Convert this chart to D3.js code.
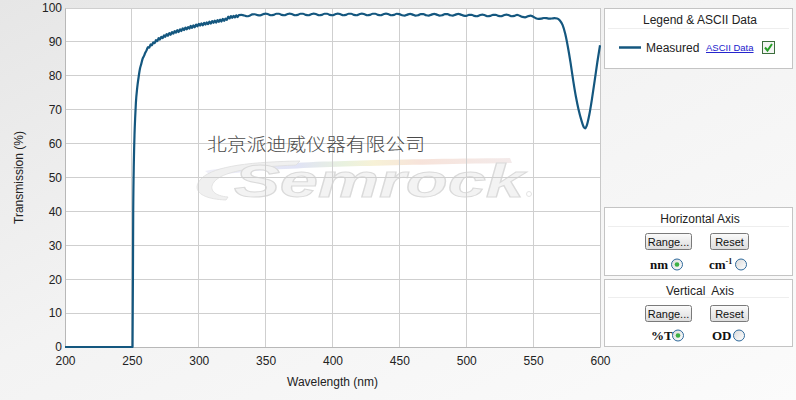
<!DOCTYPE html>
<html>
<head>
<meta charset="utf-8">
<script src="https://cdn.jsdelivr.net/npm/d3@7"></script>
<style>
  html, body { margin: 0; padding: 0; }
  body { width: 796px; height: 400px; overflow: hidden; }
  svg { display: block; }
</style>
</head>
<body>
<svg id="chart" width="796" height="400"></svg>
<script>
// ---------------- DATA ----------------
const wavelengthNm = [
  200, 230, 249, 250.5, 251, 251.5, 252, 252.5, 253, 254, 255, 256, 257, 258, 259, 260, 261,
  262, 263, 264, 265, 266, 267, 268, 269, 270, 271, 272, 273, 274, 275, 276, 277, 278, 279,
  280, 281, 282, 283, 284, 285, 286, 287, 288, 289, 290, 291, 292, 293, 294, 295, 296, 297,
  298, 299, 300, 301, 302, 303, 304, 305, 306, 307, 308, 309, 310, 311, 312, 313, 314, 315,
  316, 317, 318, 319, 320, 321, 322, 323, 324, 325, 326, 327, 328, 329, 330,
  332, 334, 336, 338, 340, 342, 344, 346, 348, 350, 352, 354, 356, 358, 360, 362, 364, 366,
  368, 370, 372, 374, 376, 378, 380, 382, 384, 386, 388, 390, 392, 394, 396, 398, 400, 402,
  404, 406, 408, 410, 412, 414, 416, 418, 420, 422, 424, 426, 428, 430, 432, 434, 436, 438,
  440, 442, 444, 446, 448, 450, 452, 454, 456, 458, 460, 462, 464, 466, 468, 470, 472, 474,
  476, 478, 480, 482, 484, 486, 488, 490, 492, 494, 496, 498, 500, 502, 504, 506, 508, 510,
  512, 514, 516, 518, 520, 522, 524, 526, 528, 530, 532, 534, 536, 538, 540, 542, 544, 546,
  548, 550, 552, 554, 556, 558, 560, 562, 564, 566, 568, 570, 572, 574, 576, 578, 580, 582,
  584, 586, 588, 589, 590, 592, 594, 596, 598, 600
];
const transmission = [
  0, 0, 0, 0, 40, 55, 63, 68, 72, 76.5, 79.5, 82, 83.5, 85, 85.8, 86.8, 87.5,
  88.5, 88.3, 89.3, 89.0, 89.9, 89.6, 90.5, 90.2, 91.1, 90.7, 91.5, 91.1, 91.9, 91.5, 92.3, 91.8, 92.6, 92.1,
  92.9, 92.4, 93.2, 92.7, 93.5, 92.9, 93.7, 93.2, 94.0, 93.5, 94.2, 93.7, 94.4, 93.9, 94.7, 94.1, 94.9, 94.3,
  95.1, 94.6, 95.3, 94.8, 95.5, 94.9, 95.6, 95.1, 95.8, 95.2, 96.0, 95.4, 96.1, 95.6, 96.3, 95.7, 96.4, 95.9,
  96.6, 96.0, 96.8, 96.2, 96.9, 96.5, 97.5, 96.9, 97.6, 97.1, 97.7, 97.2, 97.8, 97.3, 97.9,
  97.95, 97.8, 97.56, 97.73, 98.1, 98.15, 97.88, 97.81, 98.15, 98.35, 98.15, 97.86, 97.98, 98.3, 98.3, 97.98, 97.86, 98.15,
  98.35, 98.15, 97.86, 97.98, 98.3, 98.3, 97.98, 97.86, 98.15, 98.35, 98.15, 97.86, 97.98, 98.3, 98.3, 97.98, 97.86, 98.15,
  98.35, 98.15, 97.86, 97.98, 98.3, 98.3, 97.98, 97.86, 98.15, 98.35, 98.15, 97.86, 97.98, 98.3, 98.3, 97.98, 97.86, 98.15,
  98.35, 98.15, 97.86, 97.98, 98.3, 98.2, 97.88, 97.76, 98.05, 98.25, 98.05, 97.76, 97.88, 98.2, 98.2, 97.88, 97.76, 98.05,
  98.25, 98.05, 97.76, 97.88, 98.2, 98.2, 97.88, 97.76, 98.05, 98.25, 98.05, 97.76, 97.68, 98.0, 98.0, 97.68, 97.56, 97.85,
  98.05, 97.85, 97.56, 97.68, 98.0, 98.0, 97.68, 97.56, 97.85, 98.05, 97.85, 97.56, 97.68, 98.0, 97.7, 97.38, 97.26, 97.55,
  97.75, 97.45, 97.0, 96.8, 96.85, 97.05, 97.0, 96.85, 96.9, 97.0, 96.9, 96.3, 95.0, 92.4, 88.5, 83.8, 78.5, 73.8,
  70.0, 67.0, 64.8, 64.5, 65.2, 68.5, 73.2, 78.5, 84.0, 89.0
];
const xTickValues = [200, 250, 300, 350, 400, 450, 500, 550, 600];
const yTickValues = [0, 10, 20, 30, 40, 50, 60, 70, 80, 90, 100];
const seriesName = "Measured";
const xAxisTitle = "Wavelength (nm)";
const yAxisTitle = "Transmission (%)";
const companyText = "北京派迪威仪器有限公司";

// ---------------- LAYOUT ----------------
const svg = d3.select("#chart");
const W = 796, H = 400;
const plot = { left: 65, right: 600, top: 8, bottom: 347 };
const FONT = "'Liberation Sans', Arial, sans-serif";
const lineColor = "#14577f";

const defs = svg.append("defs");
const bg = defs.append("linearGradient").attr("id", "bg").attr("x1", 0).attr("y1", 0).attr("x2", 1).attr("y2", 1);
bg.append("stop").attr("offset", "0%").attr("stop-color", "#e6e6e6");
bg.append("stop").attr("offset", "45%").attr("stop-color", "#f3f3f3");
bg.append("stop").attr("offset", "100%").attr("stop-color", "#fbfbfb");
svg.append("rect").attr("width", W).attr("height", H).attr("fill", "url(#bg)");

const rainbow = defs.append("linearGradient").attr("id", "rainbow").attr("x1", 0).attr("x2", 1).attr("y1", 0).attr("y2", 0);
[["0%", "#ececf6"], ["30%", "#dde0f4"], ["45%", "#e6f0dc"], ["55%", "#f6f0d2"], ["70%", "#f6e0d6"], ["100%", "#f2e8e8"]]
  .forEach(([o, c]) => rainbow.append("stop").attr("offset", o).attr("stop-color", c));

const btnGrad = defs.append("linearGradient").attr("id", "btn").attr("x1", 0).attr("x2", 0).attr("y1", 0).attr("y2", 1);
btnGrad.append("stop").attr("offset", "0%").attr("stop-color", "#fbfbfb");
btnGrad.append("stop").attr("offset", "100%").attr("stop-color", "#dcdcdc");

const radioGrad = defs.append("linearGradient").attr("id", "radio").attr("x1", 0).attr("x2", 1).attr("y1", 0).attr("y2", 1);
radioGrad.append("stop").attr("offset", "0%").attr("stop-color", "#d9d9d9");
radioGrad.append("stop").attr("offset", "100%").attr("stop-color", "#ffffff");

// plot background
svg.append("rect")
  .attr("x", plot.left).attr("y", plot.top)
  .attr("width", plot.right - plot.left).attr("height", plot.bottom - plot.top)
  .attr("fill", "#ffffff");

const x = d3.scaleLinear().domain([200, 600]).range([plot.left, plot.right]);
const y = d3.scaleLinear().domain([0, 100]).range([plot.bottom, plot.top]);

// watermark (Semrock)
const wm = svg.append("g");
wm.append("path")
  .attr("d", "M205,171 C250,163 330,160 510,158 L512,163 C340,166 260,168 212,176 Z")
  .attr("fill", "url(#rainbow)").attr("opacity", 0.9);
wm.append("path")
  .attr("d", "M200,180 C210,168 240,162 300,161 L296,165 C248,167 222,172 214,182 C208,190 215,196 228,197 L226,200 C200,199 192,190 200,180 Z")
  .attr("fill", "#f0f0f0").attr("stroke", "#dedede").attr("stroke-width", 0.8);
wm.append("text")
  .attr("x", 234).attr("y", 197)
  .attr("font-family", FONT).attr("font-weight", "bold").attr("font-style", "italic")
  .attr("font-size", 46)
  .attr("textLength", 290).attr("lengthAdjust", "spacingAndGlyphs")
  .attr("fill", "#f3f3f3").attr("stroke", "#dadada").attr("stroke-width", 1)
  .text("Semrock");
wm.append("circle").attr("cx", 529).attr("cy", 194).attr("r", 2.5)
  .attr("fill", "none").attr("stroke", "#dddddd").attr("stroke-width", 0.8);

// gridlines
const grid = svg.append("g");
grid.selectAll("line.gx").data(xTickValues).join("line")
  .attr("x1", d => x(d)).attr("x2", d => x(d))
  .attr("y1", plot.top).attr("y2", plot.bottom)
  .attr("stroke", "#cfcfcf").attr("stroke-width", 1).attr("shape-rendering", "crispEdges");
grid.selectAll("line.gy").data(yTickValues).join("line")
  .attr("x1", plot.left).attr("x2", plot.right)
  .attr("y1", d => y(d)).attr("y2", d => y(d))
  .attr("stroke", "#cfcfcf").attr("stroke-width", 1).attr("shape-rendering", "crispEdges");

// company text over plot
svg.append("text")
  .attr("x", 207).attr("y", 151)
  .attr("font-family", "'Noto Sans CJK SC', sans-serif")
  .attr("font-size", 18).attr("font-weight", 300)
  .attr("fill", "#4a4a4a")
  .attr("textLength", 218).attr("lengthAdjust", "spacingAndGlyphs")
  .text(companyText);

// axes
const xAxis = d3.axisBottom(x).tickValues(xTickValues).tickSize(0).tickPadding(9).tickFormat(d3.format("d"));
const gx = svg.append("g").attr("transform", `translate(0,${plot.bottom})`).call(xAxis);
gx.select(".domain").attr("stroke", "#b8b8b8");
gx.selectAll("text").attr("font-family", FONT).attr("font-size", 12).attr("fill", "#222");

const yAxis = d3.axisLeft(y).tickValues(yTickValues).tickSize(0).tickPadding(3).tickFormat(d3.format("d"));
const gy = svg.append("g").attr("transform", `translate(${plot.left},0)`).call(yAxis);
gy.select(".domain").attr("stroke", "#b8b8b8");
gy.selectAll("text").attr("font-family", FONT).attr("font-size", 12).attr("fill", "#222");

// right border of plot
svg.append("line")
  .attr("x1", plot.right).attr("x2", plot.right).attr("y1", plot.top).attr("y2", plot.bottom)
  .attr("stroke", "#c8c8c8").attr("shape-rendering", "crispEdges");

// axis titles
svg.append("text")
  .attr("x", (plot.left + plot.right) / 2).attr("y", 386)
  .attr("text-anchor", "middle")
  .attr("font-family", FONT).attr("font-size", 12).attr("fill", "#222")
  .text(xAxisTitle);
svg.append("text")
  .attr("transform", `translate(23,${(plot.top + plot.bottom) / 2}) rotate(-90)`)
  .attr("text-anchor", "middle")
  .attr("font-family", FONT).attr("font-size", 12).attr("fill", "#222")
  .text(yAxisTitle);

// data line
const data = wavelengthNm.map((w, i) => ({ w, t: transmission[i] }));
const line = d3.line().x(d => x(d.w)).y(d => y(d.t)).curve(d3.curveMonotoneX);
svg.append("path")
  .datum(data)
  .attr("d", line)
  .attr("fill", "none")
  .attr("stroke", lineColor)
  .attr("stroke-width", 2.2)
  .attr("stroke-linejoin", "round");

// ---------------- RIGHT PANELS ----------------
function panel(y0, h, title, sepY) {
  const g = svg.append("g");
  g.append("rect").attr("x", 604.5).attr("y", y0 + 0.5).attr("width", 188).attr("height", h)
    .attr("fill", "#ffffff").attr("stroke", "#c4c4c4");
  g.append("line").attr("x1", 608).attr("x2", 789).attr("y1", sepY + 0.5).attr("y2", sepY + 0.5)
    .attr("stroke", "#eeeeee");
  g.append("text").attr("x", 700).attr("y", y0 + (title.dy))
    .attr("text-anchor", "middle").attr("font-family", FONT).attr("font-size", 12).attr("fill", "#222")
    .attr("xml:space", "preserve")
    .text(title.text);
  return g;
}
function button(x0, y0, w, label) {
  const g = svg.append("g");
  g.append("rect").attr("x", x0 + 0.5).attr("y", y0 + 0.5).attr("width", w).attr("height", 16).attr("rx", 2)
    .attr("fill", "url(#btn)").attr("stroke", "#7a7a7a");
  g.append("text").attr("x", x0 + w / 2 + 0.5).attr("y", y0 + 12.5).attr("text-anchor", "middle")
    .attr("font-family", FONT).attr("font-size", 11).attr("fill", "#111").text(label);
}
function radio(cx, cy, checked) {
  svg.append("circle").attr("cx", cx).attr("cy", cy).attr("r", 5.5)
    .attr("fill", "url(#radio)").attr("stroke", "#2f6a9c").attr("stroke-width", 1);
  if (checked) svg.append("circle").attr("cx", cx).attr("cy", cy).attr("r", 2.3).attr("fill", "#3cb043");
}
const SERIF = "'Liberation Serif', 'Times New Roman', serif";

// Legend panel
panel(8, 60, { text: "Legend & ASCII Data", dy: 16 }, 28);
svg.append("line").attr("x1", 619).attr("x2", 641).attr("y1", 47.5).attr("y2", 47.5)
  .attr("stroke", lineColor).attr("stroke-width", 2.5);
svg.append("text").attr("x", 646).attr("y", 52).attr("font-family", FONT).attr("font-size", 12)
  .attr("fill", "#222").text(seriesName);
svg.append("text").attr("x", 706).attr("y", 51).attr("font-family", FONT).attr("font-size", 9.5)
  .attr("fill", "#1a1acc").attr("text-decoration", "underline").text("ASCII Data");
svg.append("rect").attr("x", 762.5).attr("y", 41.5).attr("width", 12).attr("height", 12)
  .attr("fill", "#f4f4f4").attr("stroke", "#3c6e3c");
svg.append("path").attr("d", "M765,47.5 L767.5,50.5 L772,44")
  .attr("fill", "none").attr("stroke", "#28a028").attr("stroke-width", 2);

// Horizontal axis panel
panel(207, 68, { text: "Horizontal Axis", dy: 16 }, 226);
button(645, 233, 46, "Range...");
button(710, 233, 38, "Reset");
svg.append("text").attr("x", 650).attr("y", 269).attr("font-family", SERIF).attr("font-weight", "bold")
  .attr("font-size", 13).attr("fill", "#111").text("nm");
radio(677, 264.5, true);
const cm = svg.append("text").attr("x", 709).attr("y", 269).attr("font-family", SERIF).attr("font-weight", "bold")
  .attr("font-size", 13).attr("fill", "#111");
cm.append("tspan").text("cm");
cm.append("tspan").attr("dy", -5).attr("font-size", 8).text("-1");
radio(741, 264.5, false);

// Vertical axis panel
panel(279, 67, { text: "Vertical  Axis", dy: 16 }, 297);
button(645, 305, 46, "Range...");
button(710, 305, 38, "Reset");
svg.append("text").attr("x", 651).attr("y", 340).attr("font-family", SERIF).attr("font-weight", "bold")
  .attr("font-size", 13).attr("fill", "#111").text("%T");
radio(678, 335.5, true);
svg.append("text").attr("x", 712).attr("y", 340).attr("font-family", SERIF).attr("font-weight", "bold")
  .attr("font-size", 13).attr("fill", "#111").text("OD");
radio(739, 335.5, false);
</script>
</body>
</html>
